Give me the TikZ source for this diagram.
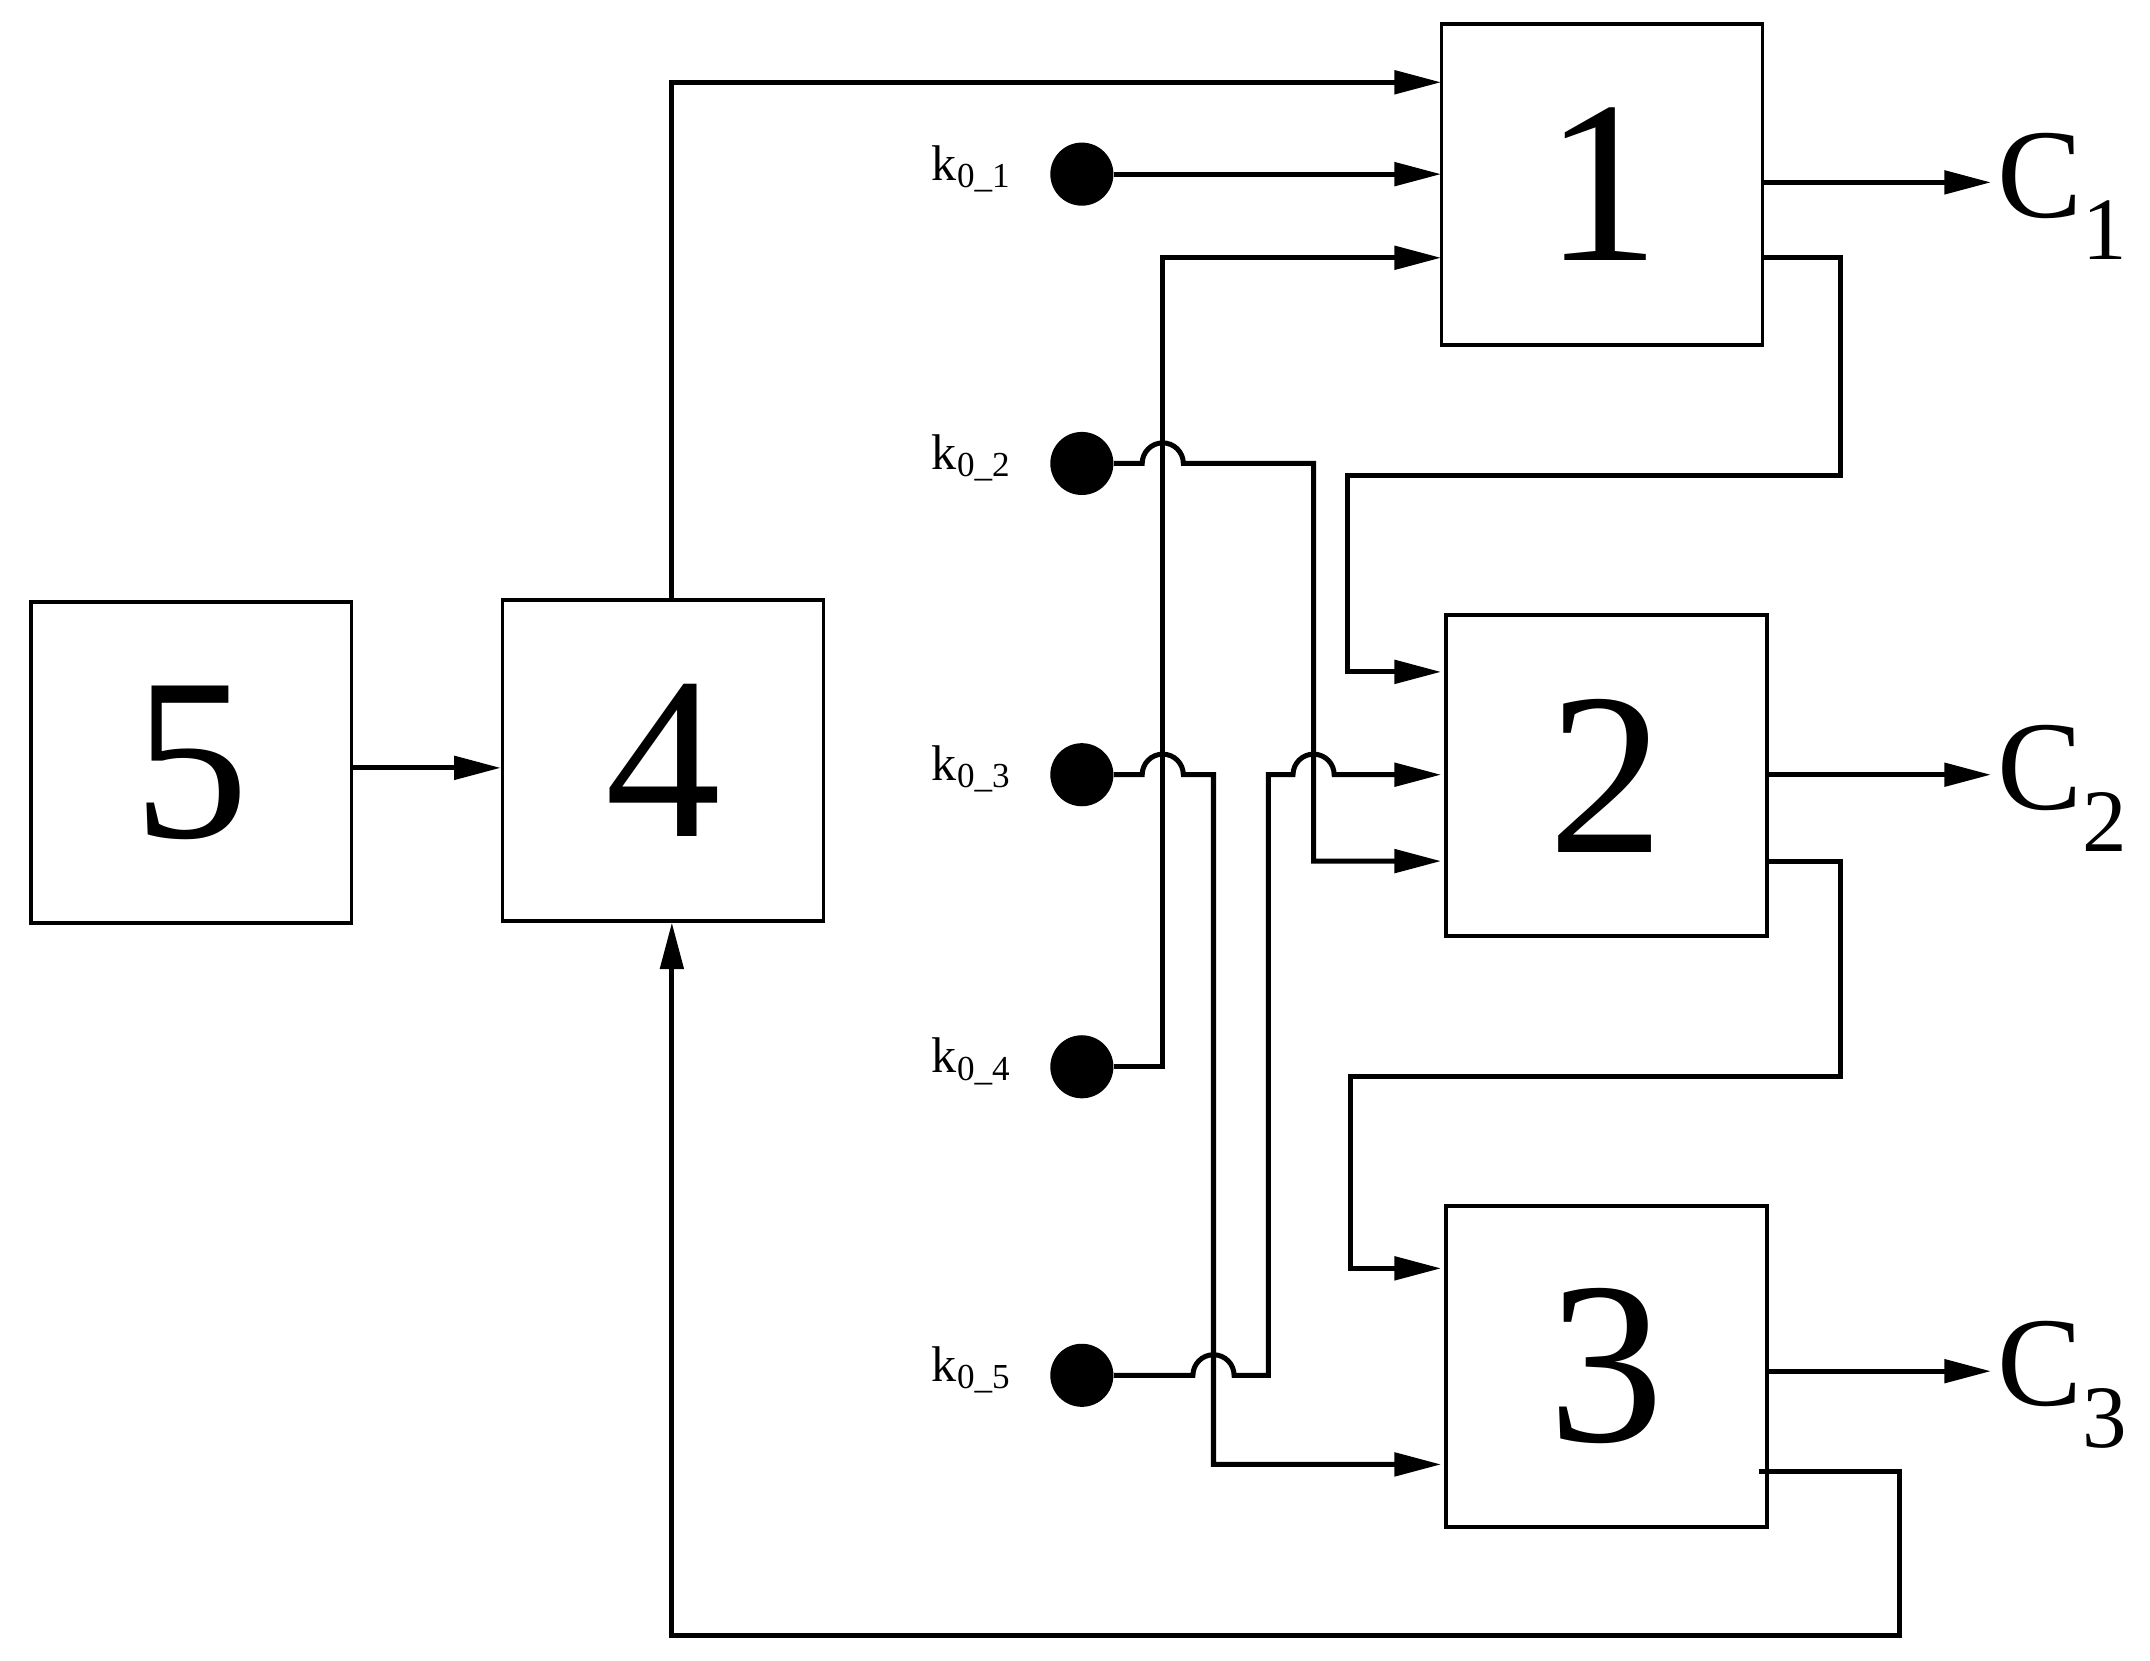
\documentclass[tikz,border=0pt]{standalone}
\usepackage{fontspec}
\setmainfont{Liberation Serif}
\usetikzlibrary{arrows.meta}
\begin{document}
\begin{tikzpicture}[x=0.025cm,y=-0.025cm,
  ln/.style={line width=2.6pt,line join=miter},
  ar/.style={ln,-{Triangle[length=0.85cm,width=0.42cm]}},
  box/.style={draw,line width=1.8pt,minimum width=5.85cm,minimum height=5.85cm,inner sep=0pt,font=\fontsize{120}{120}\selectfont},
  dot/.style={circle,fill=black,minimum size=1.15cm,inner sep=0pt},
  kl/.style={anchor=east,font=\fontsize{26}{26}\selectfont},
  cl/.style={anchor=west,font=\fontsize{66}{66}\selectfont}]
\useasboundingbox (0,0) rectangle (1568,1211);
\node[box] (b5) at (139.5,556) {5};
\node[box] (b4) at (483.5,554.5) {4};
\node[box] (b1) at (1168.5,134.5) {1};
\node[box] (b2) at (1171.5,565.5) {2};
\node[box] (b3) at (1171.5,996.5) {3};
\foreach \i/\y in {1/127,2/338,3/565,4/778,5/1003}{
  \node[dot] (k\i) at (789,\y) {};
  \node[kl] at (742,\y-4) {k\textsubscript{0\_\i}};
}
\node[cl] (c1) at (1452,143) {C\textsubscript{1}};
\node[cl] (c2) at (1452,575) {C\textsubscript{2}};
\node[cl] (c3) at (1452,1010) {C\textsubscript{3}};
\def\hr{0.375cm}
\draw[ar] (b5.east |- 0,560) -- (b4.west |- 0,560);
\draw[ar] (490,437) -- (490,60) -- (1051,60);
\draw[ar] (k1) -- (1051,127);
\draw[ar] (k4) -- (848,778) -- (848,188) -- (1051,188);
\draw[ar] (k2) -- (833,338) arc[start angle=180,end angle=0,radius=\hr] -- (958,338) -- (958,628) -- (1051,628);
\draw[ar] (k3) -- (833,565) arc[start angle=180,end angle=0,radius=\hr] -- (885,565) -- (885,1068) -- (1051,1068);
\draw[ar] (k5) -- (870,1003) arc[start angle=180,end angle=0,radius=\hr] -- (925,1003) -- (925,565) -- (943,565) arc[start angle=180,end angle=0,radius=\hr] -- (1051,565);
\draw[ar] (1286,133) -- (c1.west |- 0,133);
\draw[ar] (1289,565) -- (c2.west |- 0,565);
\draw[ar] (1289,1000) -- (c3.west |- 0,1000);
\draw[ar] (1286,188) -- (1342,188) -- (1342,347) -- (983,347) -- (983,490) -- (1051,490);
\draw[ar] (1289,628) -- (1342,628) -- (1342,785) -- (985,785) -- (985,925) -- (1051,925);
\draw[ar] (1283,1073) -- (1385,1073) -- (1385,1193) -- (490,1193) -- (b4.south -| 490,0);
\end{tikzpicture}
\end{document}
